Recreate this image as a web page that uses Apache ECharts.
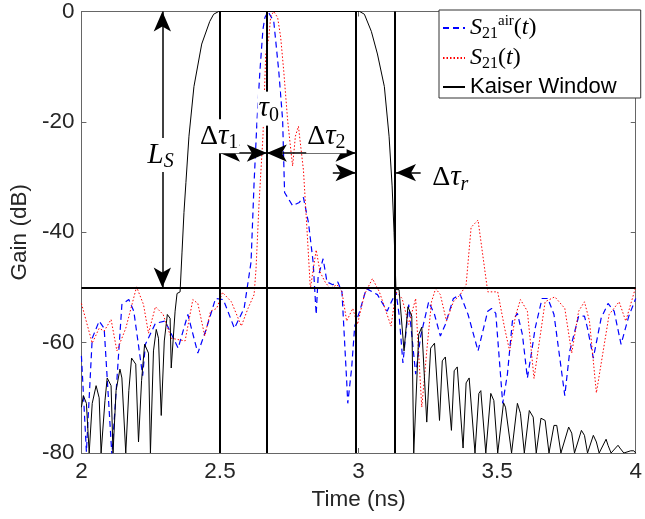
<!DOCTYPE html>
<html><head><meta charset="utf-8">
<script src="https://cdn.jsdelivr.net/npm/echarts@6/dist/echarts.min.js"></script>
<style>html,body{margin:0;padding:0;background:#fff}#c{width:645px;height:519px}</style>
</head><body><div id="c"></div>
<script>
// ---- data (time in ns, gain in dB) ----
const airT = [2.0,2.018,2.039,2.064,2.082,2.11,2.146,2.171,2.189,2.221,2.231,2.267,2.302,2.349,2.384,2.42,2.448,2.484,2.512,2.552,2.587,2.612,2.623,2.633,2.644,2.655,2.662,2.673,2.694,2.712,2.726,2.733,2.762,2.786,2.801,2.819,2.836,2.847,2.854,2.872,2.886,2.907,2.925,2.94,2.957,2.961,2.975,2.986,3.004,3.028,3.068,3.103,3.135,3.146,3.16,3.181,3.206,3.224,3.253,3.274,3.295,3.313,3.342,3.367,3.395,3.431,3.466,3.48,3.495,3.52,3.537,3.555,3.573,3.591,3.609,3.623,3.637,3.662,3.683,3.705,3.744,3.762,3.794,3.815,3.826,3.847,3.875,3.9,3.922,3.947,3.975,4.0];
const airDb = [-62.4,-79.8,-59.2,-56.1,-57.4,-80.4,-53.1,-52.2,-54.3,-66.0,-60.3,-56.5,-56.1,-61.0,-54.9,-61.9,-57.9,-52.0,-52.2,-57.4,-53.8,-45.4,-31.0,-20.3,-10.8,-3.2,-1.1,0,-1.8,-10.8,-19.7,-32.8,-35.2,-34.6,-33.7,-38.2,-45.4,-54.9,-48.1,-44.8,-49.0,-49.5,-49.0,-50.8,-66.9,-71.0,-64.6,-57.0,-54.3,-50.2,-51.3,-54.3,-50.8,-54.9,-63.7,-53.1,-65.7,-58.8,-52.6,-54.9,-58.8,-56.7,-52.0,-51.3,-54.9,-61.5,-54.3,-53.8,-54.7,-71.0,-65.7,-56.1,-54.7,-58.5,-66.4,-62.1,-57.4,-52.0,-52.0,-54.9,-69.6,-61.5,-55.2,-55.2,-57.4,-62.8,-55.6,-52.9,-54.3,-60.3,-55.2,-52.0];

const redT = [2.0,2.039,2.064,2.082,2.107,2.128,2.16,2.199,2.224,2.242,2.267,2.295,2.324,2.374,2.402,2.42,2.445,2.466,2.488,2.509,2.541,2.577,2.601,2.623,2.63,2.641,2.655,2.665,2.676,2.683,2.694,2.708,2.719,2.73,2.744,2.754,2.762,2.772,2.783,2.79,2.801,2.815,2.826,2.847,2.861,2.879,2.897,2.922,2.94,2.957,2.979,2.996,3.021,3.05,3.075,3.117,3.135,3.157,3.181,3.206,3.21,3.228,3.246,3.263,3.278,3.295,3.317,3.342,3.367,3.388,3.406,3.431,3.466,3.484,3.502,3.527,3.545,3.566,3.584,3.609,3.633,3.673,3.708,3.744,3.769,3.794,3.815,3.833,3.858,3.904,3.94,3.964,4.0];
const redDb = [-52.9,-60.1,-57.4,-57.9,-55.8,-61.5,-57.4,-49.9,-53.1,-58.3,-53.5,-54.9,-59.2,-59.7,-52.2,-52.9,-58.8,-54.3,-53.8,-50.9,-52.6,-57.0,-53.8,-51.3,-46.6,-34.6,-22.6,-7.7,-4.7,-0.9,0,-1.1,-4.7,-10.8,-19.7,-24.4,-28.0,-22.6,-20.8,-23.9,-28.7,-40.5,-50.2,-43.2,-47.2,-49.0,-50.2,-49.5,-50.8,-56.1,-53.8,-56.7,-51.3,-48.4,-50.8,-57.0,-50.8,-52.0,-56.7,-52.0,-56.1,-71.7,-61.5,-52.6,-50.2,-51.3,-56.1,-52.6,-51.3,-49.5,-39.1,-37.8,-50.8,-50.8,-50.8,-57.4,-61.5,-55.2,-52.2,-54.3,-66.5,-52.6,-51.7,-53.8,-61.9,-54.3,-52.6,-56.1,-69.1,-54.9,-52.6,-56.1,-49.9];

const kaiT = [2.0,2.007,2.018,2.028,2.039,2.053,2.064,2.071,2.085,2.093,2.107,2.114,2.125,2.139,2.146,2.16,2.171,2.181,2.196,2.206,2.217,2.228,2.242,2.249,2.26,2.27,2.278,2.288,2.299,2.31,2.32,2.324,2.338,2.345,2.356,2.363,2.37,2.377,2.388,2.406,2.434,2.463,2.477,2.495,3.004,3.021,3.046,3.068,3.093,3.11,3.121,3.128,3.135,3.146,3.164,3.178,3.192,3.199,3.217,3.228,3.246,3.26,3.274,3.292,3.302,3.313,3.335,3.345,3.356,3.377,3.388,3.399,3.42,3.434,3.441,3.459,3.477,3.488,3.502,3.523,3.53,3.552,3.573,3.584,3.598,3.616,3.63,3.641,3.658,3.673,3.687,3.705,3.715,3.73,3.758,3.769,3.779,3.804,3.815,3.826,3.847,3.858,3.868,3.893,3.9,3.911,3.936,3.943,3.957,3.982,3.993,4.0];
const kaiDb = [-71.7,-69.6,-71.0,-80,-71.0,-67.8,-70.0,-80,-70.5,-66.4,-67.8,-80,-68.7,-64.8,-66.4,-80,-68.7,-62.8,-63.9,-78.0,-66.9,-60.3,-61.9,-80,-61.5,-57.6,-59.2,-73.2,-59.7,-54.9,-55.6,-64.6,-54.3,-51.1,-50.8,-43.6,-36.4,-31.0,-22.6,-13.6,-5.9,-1.8,-0.5,0,0,-0.5,-3.6,-7.7,-13.6,-22.6,-31.6,-40.0,-50.4,-50.4,-61.5,-53.5,-55.2,-80,-58.5,-57.2,-74.4,-61.0,-60.1,-74.1,-63.3,-62.6,-75.9,-65.1,-64.4,-79.1,-67.3,-66.4,-80,-69.2,-68.7,-80,-69.2,-70.5,-80,-70.9,-71.7,-80,-71.0,-72.8,-80,-72.3,-73.5,-80,-73.7,-74.1,-80,-75.0,-75.0,-80,-75.3,-76.4,-80,-75.9,-76.8,-80,-76.8,-78.0,-80,-77.5,-78.6,-80,-78.6,-79.1,-80,-79.6,-79.6,-80];

// annotation positions (data units)
const markerTimes = [2.5, 2.669, 2.989, 3.135];   // Δτ boundaries, τ0, window edge
const levelDb = -50;                             // side-lobe level line
const lsTime = 2.292;                            // L_S arrow position
const dtArrowDb = -25.65;                        // Δτ1 / Δτ2 arrow level
const dtrArrowDb = -29.2;                        // Δτ_r arrow level
const dtrLeftStart = 2.907, dtrRightStart = 3.224;
const textLabels = [
  {name:'Ls',   t:2.286, db:-26.0, text:'{i|L}{si|S}'},
  {name:'tau0', t:2.676, db:-17.6, text:'{i|τ}{sn|0}'},
  {name:'dt1',  t:2.497, db:-22.6, text:'{u|Δ}{i|τ}{sn|1}'},
  {name:'dt2',  t:2.884, db:-22.6, text:'{u|Δ}{i|τ}{sn|2}'},
  {name:'dtr',  t:3.331, db:-30.1, text:'{u|Δ}{i|τ}{si|r}'}
];
const xTicks = {min:2, max:4, step:0.5};
const yTicks = {min:-80, max:0, step:20};

const zip = (a, b) => a.map((t, i) => [t, b[i]]);
const SERIF = 'Liberation Serif';
const SANS = 'Liberation Sans';
const mathRich = {
  i:  {fontFamily:SERIF, fontStyle:'italic', fontSize:29, lineHeight:34, color:'#000'},
  u:  {fontFamily:SERIF, fontSize:28, lineHeight:34, color:'#000'},
  si: {fontFamily:SERIF, fontStyle:'italic', fontSize:20, lineHeight:20, verticalAlign:'bottom', color:'#000'},
  sn: {fontFamily:SERIF, fontSize:20, lineHeight:20, verticalAlign:'bottom', color:'#000'}
};

const chart = echarts.init(document.getElementById('c'), null, {renderer:'canvas'});
const axisCol = '#666', txtCol = '#262626';
const option = {
  animation: false,
  backgroundColor: '#fff',
  grid: {left:78, right:5, top:7, bottom:66, containLabel:false},
  legend: {
    left:439, top:10, orient:'vertical',
    padding:[4, 24, 0, 3], itemGap:4, itemWidth:22, itemHeight:14,
    backgroundColor:'#fff', borderColor:'#333', borderWidth:1, borderRadius:0,
    selectedMode:false,
    itemStyle:{color:'rgba(0,0,0,0)', borderColor:'rgba(0,0,0,0)', borderWidth:0},
    data:['air','S21','Kaiser Window'],
    formatter: function (name) {
      if (name === 'air') return '{m|S}{sb|21}{sp|air}{mu|(}{m|t}{mu|)}';
      if (name === 'S21') return '{m|S}{sb|21}{mu|(}{m|t}{mu|)}';
      return '{k|Kaiser Window}';
    },
    textStyle: {
      rich: {
        m:  {fontFamily:SERIF, fontStyle:'italic', fontSize:24, lineHeight:28, color:'#000'},
        mu: {fontFamily:SERIF, fontSize:24, lineHeight:28, color:'#000'},
        sb: {fontFamily:SERIF, fontSize:16, lineHeight:16, verticalAlign:'bottom', color:'#000'},
        sp: {fontFamily:SERIF, fontSize:15, lineHeight:14, verticalAlign:'top', color:'#000'},
        k:  {fontFamily:SANS, fontSize:22, lineHeight:28, color:'#000'}
      }
    }
  },
  xAxis: [
    {type:'value', min:xTicks.min, max:xTicks.max, interval:xTicks.step, position:'bottom',
     axisLine:{show:true, onZero:false, lineStyle:{color:axisCol, width:1}},
     axisTick:{show:true, inside:true, length:5, lineStyle:{color:axisCol}},
     axisLabel:{fontSize:22.5, color:txtCol, fontFamily:SANS, margin:7},
     splitLine:{show:false},
     name:'Time (ns)', nameLocation:'middle', nameGap:33,
     nameTextStyle:{fontSize:22.5, color:txtCol, fontFamily:SANS}},
    {type:'value', min:xTicks.min, max:xTicks.max, interval:xTicks.step, position:'top',
     axisLine:{show:true, onZero:false, lineStyle:{color:axisCol, width:1}},
     axisTick:{show:true, inside:true, length:5, lineStyle:{color:axisCol}},
     axisLabel:{show:false}, splitLine:{show:false}}
  ],
  yAxis: [
    {type:'value', min:yTicks.min, max:yTicks.max, interval:yTicks.step, position:'left',
     axisLine:{show:true, onZero:false, lineStyle:{color:axisCol, width:1}},
     axisTick:{show:true, inside:true, length:5, lineStyle:{color:axisCol}},
     axisLabel:{fontSize:22.5, color:txtCol, fontFamily:SANS, margin:7},
     splitLine:{show:false},
     name:'Gain (dB)', nameLocation:'middle', nameGap:47,
     nameTextStyle:{fontSize:22.5, color:txtCol, fontFamily:SANS}},
    {type:'value', min:yTicks.min, max:yTicks.max, interval:yTicks.step, position:'right',
     axisLine:{show:true, onZero:false, lineStyle:{color:axisCol, width:1}},
     axisTick:{show:true, inside:true, length:5, lineStyle:{color:axisCol}},
     axisLabel:{show:false}, splitLine:{show:false}}
  ],
  series: [
    {name:'air', type:'line', xAxisIndex:0, yAxisIndex:0, data:zip(airT, airDb),
     symbol:'none', showSymbol:false, clip:true, z:2,
     lineStyle:{color:'#0000ff', width:1.2, type:[6,4]}, itemStyle:{color:'#0000ff'},
     markPoint:{
       silent:true, z:10, symbol:'circle', symbolSize:0,
       label:{show:true, position:'inside', color:'#000', backgroundColor:'#fff', padding:[0,1], rich:mathRich},
       data: textLabels.map(l => ({name:l.name, coord:[l.t, l.db], label:{formatter:l.text}}))
     }},
    {name:'S21', type:'line', xAxisIndex:0, yAxisIndex:0, data:zip(redT, redDb),
     symbol:'none', showSymbol:false, clip:true, z:2,
     lineStyle:{color:'#ff0000', width:1, type:[1.5,2]}, itemStyle:{color:'#ff0000'},
     markLine:{
       silent:true, z:4, label:{show:false},
       symbol:['arrow','arrow'], symbolSize:[13,20],
       lineStyle:{color:'#000', width:1.5, type:'solid'},
       emphasis:{disabled:true},
       data:[
         [{coord:[lsTime, 0]}, {coord:[lsTime, levelDb]}],
         [{coord:[markerTimes[0], dtArrowDb]}, {coord:[markerTimes[1], dtArrowDb]}],
         [{coord:[markerTimes[1], dtArrowDb]}, {coord:[markerTimes[2], dtArrowDb]}],
         [{coord:[dtrLeftStart, dtrArrowDb], symbol:'none'}, {coord:[markerTimes[2], dtrArrowDb]}],
         [{coord:[dtrRightStart, dtrArrowDb], symbol:'none'}, {coord:[markerTimes[3], dtrArrowDb]}]
       ]
     }},
    {name:'Kaiser Window', type:'line', xAxisIndex:0, yAxisIndex:0, data:zip(kaiT, kaiDb),
     symbol:'none', showSymbol:false, clip:true, z:3,
     lineStyle:{color:'#000', width:1}, itemStyle:{color:'#000'},
     markLine:{
       silent:true, z:3, symbol:'none', label:{show:false},
       lineStyle:{color:'#000', width:2, type:'solid'},
       emphasis:{disabled:true},
       data: markerTimes.map(v => ({xAxis:v})).concat([{yAxis:levelDb}])
     }}
  ]
};
chart.setOption(option);
</script>
</body></html>
